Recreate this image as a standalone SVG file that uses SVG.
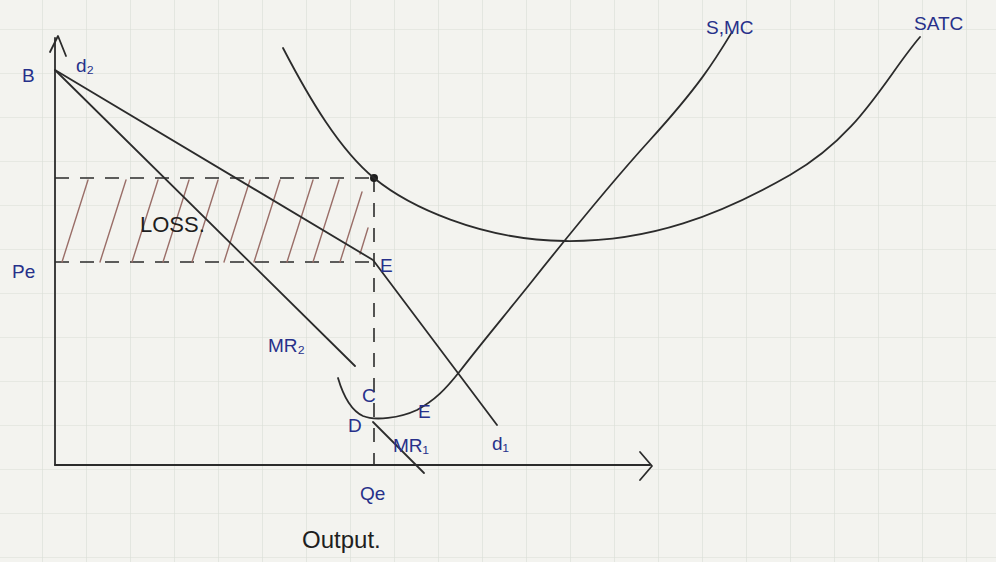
<svg xmlns="http://www.w3.org/2000/svg" width="996" height="562" viewBox="0 0 996 562">
<defs>
<pattern id="grid" x="42" y="29" width="44" height="44" patternUnits="userSpaceOnUse">
<path d="M0 0H44M0 0V44" fill="none" stroke="#d9ddd6" stroke-width="1.2"/>
</pattern>
</defs>
<style>
.ln{fill:none;stroke:#2b2b2b;stroke-width:1.8;stroke-linecap:round;stroke-linejoin:round}
.ds{fill:none;stroke:#2b2b2b;stroke-width:1.6;stroke-dasharray:14 11}
.ht{stroke:#9a6e68;stroke-width:1.4;stroke-linecap:round}
.bl{font-family:"Liberation Sans",Arial,sans-serif;font-size:19px;fill:#27308a}
.bk{font-family:"Liberation Sans",Arial,sans-serif;fill:#1e1e1e}
</style>
<rect width="996" height="562" fill="#f3f3ef"/>
<rect width="996" height="562" fill="url(#grid)"/>

<g id="axes">
<path class="ln" d="M55 465V38"/>
<path class="ln" d="M50 52L58 36L66 56"/>
<path class="ln" d="M55 465H650"/>
<path class="ln" d="M640 452L652 466L640 480"/>
</g>

<g id="loss">
<path class="ds" d="M55 178H372"/>
<path class="ds" d="M55 262H372"/>
<g>
<line class="ht" x1="62" y1="262" x2="88" y2="180"/>
<line class="ht" x1="100" y1="262" x2="126" y2="180"/>
<line class="ht" x1="132" y1="262" x2="158" y2="180"/>
<line class="ht" x1="163" y1="262" x2="189" y2="180"/>
<line class="ht" x1="192" y1="262" x2="218" y2="180"/>
<line class="ht" x1="224" y1="262" x2="250" y2="180"/>
<line class="ht" x1="254" y1="262" x2="280" y2="180"/>
<line class="ht" x1="287" y1="262" x2="313" y2="180"/>
<line class="ht" x1="313" y1="262" x2="339" y2="180"/>
<line class="ht" x1="340" y1="262" x2="362" y2="192"/>
<line class="ht" x1="360" y1="254" x2="368" y2="228"/>
</g>
<text class="bk" x="140" y="232" font-size="22">LOSS.</text>
</g>

<g id="connectors">
<path class="ds" d="M374 178V465"/>
<circle cx="374" cy="178" r="4" fill="#1e1e1e"/>
</g>

<g id="demand">
<path class="ln" d="M55 70L373 260L497 425"/>
<text class="bl" x="76" y="72" font-size="21">d₂</text>
<text class="bl" x="492" y="450" font-size="24">d₁</text>
<text class="bl" x="22" y="82" font-size="22">B</text>
<text class="bl" x="12" y="278" font-size="22">Pe</text>
<text class="bl" x="380" y="272">E</text>
</g>

<g id="mr">
<path class="ln" d="M55 70L355 366"/>
<path class="ln" d="M373 422L424 473"/>
<text class="bl" x="268" y="352" font-size="17">MR₂</text>
<text class="bl" x="393" y="452" font-size="18">MR₁</text>
</g>

<g id="mc">
<path class="ln" d="M338 378C343 395 350 410 363 416C375 421 400 418 417 410C435 400 445 390 460 371C480 345 505 315 525 290S600 195 650 140S715 60 732 32"/>
<text class="bl" x="362" y="402" font-size="17">C</text>
<text class="bl" x="348" y="432" font-size="19">D</text>
<text class="bl" x="418" y="418" font-size="19">E</text>
<text class="bl" x="706" y="34" font-size="19">S,MC</text>
</g>

<g id="satc">
<path class="ln" d="M283 48C310 100 340 150 374 178S480 240 565 241S720 215 790 175S885 78 920 37"/>
<text class="bl" x="914" y="30" font-size="19">SATC</text>
</g>

<g id="xlabels">
<text class="bl" x="360" y="500" font-size="20">Qe</text>
<text class="bk" x="302" y="548" font-size="24">Output.</text>
</g>
</svg>
